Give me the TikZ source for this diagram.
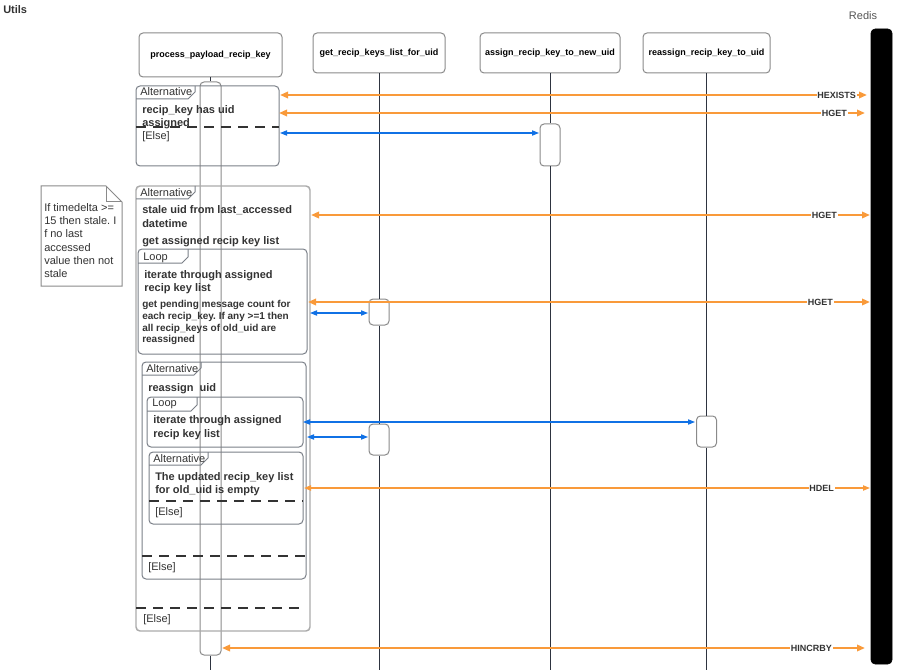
\documentclass[tikz,border=0pt]{standalone}
\usepackage{fontspec}
\setmainfont{Liberation Sans}
\usetikzlibrary{arrows.meta}
\definecolor{orangec}{HTML}{F99A3A}
\definecolor{bluec}{HTML}{1071E5}
\definecolor{framec}{HTML}{7A7F87}
\definecolor{framelt}{HTML}{ABABAB}
\definecolor{txtc}{HTML}{333333}
\definecolor{lifec}{HTML}{2E3440}
\definecolor{boxc}{HTML}{8A8A8A}
\definecolor{redisc}{HTML}{555555}
\frenchspacing
\begin{document}
\begin{tikzpicture}[x=0.75pt,y=-0.75pt,
  part/.style={draw=boxc, line width=0.75pt, rounded corners=3pt, fill=white, font=\bfseries\fontsize{6.75pt}{8pt}\selectfont, text=black, inner sep=0},
  actbox/.style={draw=boxc, line width=0.75pt, rounded corners=3pt, fill=white, minimum width=15pt, inner sep=0},
  life/.style={draw=lifec, line width=0.75pt},
  frm/.style={draw=framec, line width=0.75pt, rounded corners=3pt},
  frmlt/.style={draw=framelt, line width=1.1pt, rounded corners=3pt},
  tabl/.style={draw=framec, line width=0.75pt},
  dsh/.style={draw=txtc, line width=0.9pt, dash pattern=on 7.5pt off 5.25pt},
  ft/.style={anchor=base west, inner sep=0, text=txtc, font=\bfseries\fontsize{8.25pt}{9.75pt}\selectfont},
  fs/.style={anchor=base west, inner sep=0, text=txtc, font=\bfseries\fontsize{7.5pt}{8.5pt}\selectfont},
  tt/.style={anchor=base west, inner sep=0, text=txtc, font=\fontsize{8.25pt}{9.75pt}\selectfont},
  lbl/.style={anchor=east, fill=white, inner sep=0.6pt, text=txtc, font=\bfseries\fontsize{6.75pt}{8pt}\selectfont},
  oarr/.style={draw=orangec, line width=2pt, arrows={Triangle[length=6pt,width=4.8pt]-Triangle[length=6pt,width=4.8pt]}},
  othin/.style={draw=orangec, line width=1.1pt, arrows={Triangle[length=5.25pt,width=3.9pt]-Triangle[length=5.25pt,width=3.9pt]}},
  barr/.style={draw=bluec, line width=0.9pt, arrows={Triangle[length=5.25pt,width=3.9pt]-Triangle[length=5.25pt,width=3.9pt]}}
]
\useasboundingbox (0,0) rectangle (898,670);

% titles
\node[anchor=base west, inner sep=0, text=txtc, font=\bfseries\fontsize{8.25pt}{9.75pt}\selectfont] (utils) at (3,14) {Utils};
\node[anchor=base, inner sep=0, text=redisc, font=\fontsize{8.25pt}{9.75pt}\selectfont] (redislbl) at (863,20) {Redis};

% Redis bar
\node[fill=black, draw=black, rounded corners=3pt, minimum width=15.75pt, minimum height=476.25pt, inner sep=0] (redis) at (881.5,346.5) {};

% participants
\node[part, minimum width=107.25pt, minimum height=33pt] (p1) at (210.5,55) {process\_payload\_recip\_key};
\node[part, minimum width=99pt, minimum height=30pt] (p2) at (379,53) {get\_recip\_keys\_list\_for\_uid};
\node[part, minimum width=105pt, minimum height=30pt] (p3) at (550,53) {assign\_recip\_key\_to\_new\_uid};
\node[part, minimum width=95.25pt, minimum height=30pt] (p4) at (706.5,53) {reassign\_recip\_key\_to\_uid};

% activation boxes
\node[draw=boxc, line width=0.75pt, rounded corners=3pt, minimum width=15.75pt, minimum height=429.75pt, inner sep=0] (bar) at (210.5,368.5) {};
\node[actbox, minimum height=31.5pt] (a1) at (550,145) {};
\node[actbox, minimum height=19.5pt] (a2) at (379,312) {};
\node[actbox, minimum height=23.25pt] (a3) at (379,439.5) {};
\node[actbox, minimum height=23.25pt] (a4) at (706.5,431.5) {};

% lifeline ends
\coordinate (e1) at (210.5,670);
\coordinate (e2) at (379,670);
\coordinate (e3) at (550,670);
\coordinate (e4) at (706.5,670);

% lifelines
\draw[life] (p1.south) -- (bar.north);
\draw[life] (bar.south) -- (e1);
\draw[life] (p2.south) -- (a2.north);
\draw[life] (a2.south) -- (a3.north);
\draw[life] (a3.south) -- (e2);
\draw[life] (p3.south) -- (a1.north);
\draw[life] (a1.south) -- (e3);
\draw[life] (p4.south) -- (a4.north);
\draw[life] (a4.south) -- (e4);

% note
\draw[draw=boxc, line width=0.75pt, fill=white] (41,186) -- (106,186) -- (122,202) -- (122,286) -- (41,286) -- cycle;
\draw[draw=boxc, line width=0.75pt] (106,186) -- (106,202) -- (122,202);
\node[tt] (n1) at (44,211) {If timedelta >=};
\node[tt] (n2) at (44,224.3) {15 then stale. I};
\node[tt] (n3) at (44,237.6) {f no last};
\node[tt] (n4) at (44,251) {accessed};
\node[tt] (n5) at (44,264.3) {value then not};
\node[tt] (n6) at (44,277.6) {stale};

% Alt1
\draw[frm] (136,86) rectangle (279,166);
\draw[tabl] (136,99) -- (188,99) -- (195,92) -- (195,86);
\node[tt] (t1) at (140,96) {Alternative};
\node[ft] (f1a) at (142,114) {recip\_key has uid};
\node[ft] (f1b) at (142,127) {assigned};
\draw[dsh] (136,127) -- (279,127);
\node[tt] (e1l) at (142,140) {[Else]};

% Alt2
\draw[frmlt] (136,186) rectangle (310,631);
\draw[tabl] (136,199) -- (188,199) -- (195,192) -- (195,186);
\node[tt] (t2) at (140,196) {Alternative};
\node[ft] (f2a) at (142,214) {stale uid from last\_accessed};
\node[ft] (f2b) at (142,227) {datetime};
\node[ft] (f2c) at (142,244) {get assigned recip key list};
\draw[dsh] (136,608) -- (303,608);
\node[tt] (e2l) at (143,622) {[Else]};

% Loop1
\draw[frm] (138,249) rectangle (307,354);
\draw[tabl] (138,263) -- (182,263) -- (188,257) -- (188,249);
\node[tt] (t3) at (143,260) {Loop};
\node[ft] (f3a) at (144,278) {iterate through assigned};
\node[ft] (f3b) at (144,291) {recip key list};
\node[fs] (s1) at (142,307) {get pending message count for};
\node[fs] (s2) at (142,319) {each recip\_key. If any >=1 then};
\node[fs] (s3) at (142,331) {all recip\_keys of old\_uid are};
\node[fs] (s4) at (142,342.5) {reassigned};

% Alt3
\draw[frm] (142,362) rectangle (306,579);
\draw[tabl] (142,375) -- (194,375) -- (201,368) -- (201,362);
\node[tt] (t4) at (146,372) {Alternative};
\node[ft] (f4a) at (148,391) {reassign\ \ uid};
\draw[dsh] (142,556) -- (306,556);
\node[tt] (e3l) at (148,570) {[Else]};

% Loop2
\draw[frm] (147,397) rectangle (303,447);
\draw[tabl] (147,411) -- (191,411) -- (197,405) -- (197,397);
\node[tt] (t5) at (152,406) {Loop};
\node[ft] (f5a) at (153,423.5) {iterate through assigned};
\node[ft] (f5b) at (153,437) {recip key list};

% Alt4
\draw[frm] (149,452) rectangle (303,524);
\draw[tabl] (149,465) -- (201,465) -- (208,458) -- (208,452);
\node[tt] (t6) at (153,462) {Alternative};
\node[ft] (f6a) at (155,480) {The updated recip\_key list};
\node[ft] (f6b) at (155,493) {for old\_uid is empty};
\draw[dsh] (149,501) -- (303,501);
\node[tt] (e4l) at (155,515) {[Else]};

% connector endpoints
\coordinate (m1l) at (280,95);  \coordinate (m1r) at (867,95);
\coordinate (m2l) at (279,113); \coordinate (m2r) at (865,113);
\coordinate (m3l) at (280,133); \coordinate (m3r) at (539,133);
\coordinate (m4l) at (311,215); \coordinate (m4r) at (870,215);
\coordinate (m5l) at (308,302); \coordinate (m5r) at (870,302);
\coordinate (m6l) at (310,313); \coordinate (m6r) at (368,313);
\coordinate (m7l) at (303,422); \coordinate (m7r) at (695,422);
\coordinate (m8l) at (307,437); \coordinate (m8r) at (368,437);
\coordinate (m9l) at (304,488); \coordinate (m9r) at (870,488);
\coordinate (m10l) at (222,648); \coordinate (m10r) at (865,648);

% connectors
\draw[oarr] (m1l) -- (m1r);
\draw[oarr] (m2l) -- (m2r);
\draw[barr] (m3l) -- (m3r);
\draw[oarr] (m4l) -- (m4r);
\draw[oarr] (m5l) -- (m5r);
\draw[barr] (m6l) -- (m6r);
\draw[barr] (m7l) -- (m7r);
\draw[barr] (m8l) -- (m8r);
\draw[othin] (m9l) -- (m9r);
\draw[oarr] (m10l) -- (m10r);

% labels
\node[lbl] (l1) at (857,95) {HEXISTS};
\node[lbl] (l2) at (848,113) {HGET};
\node[lbl] (l4) at (838,215) {HGET};
\node[lbl] (l5) at (834,302) {HGET};
\node[lbl] (l9) at (835,488) {HDEL};
\node[lbl] (l10) at (833,648) {HINCRBY};
\end{tikzpicture}
\end{document}
